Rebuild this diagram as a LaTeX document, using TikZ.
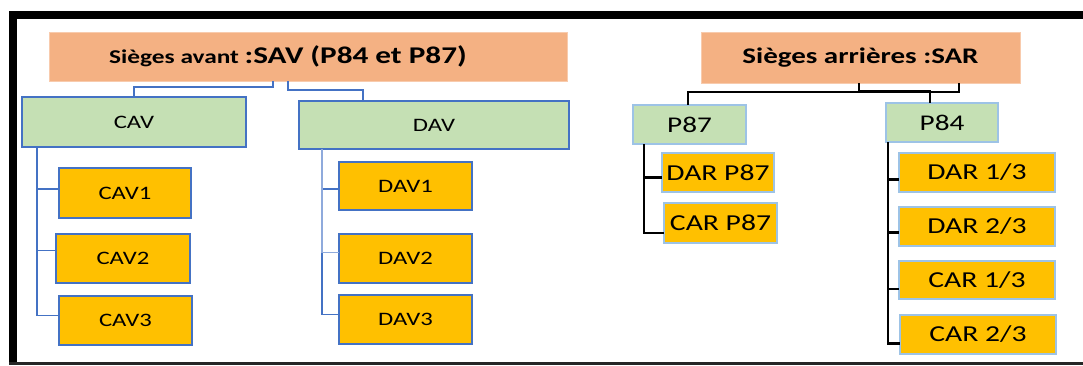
\documentclass[tikz,border=0pt]{standalone}
\usepackage{fontspec}
\setmainfont{Carlito}[FakeStretch=1.3]
\definecolor{hdr}{HTML}{F4B183}
\definecolor{hdredge}{HTML}{F8CBAD}
\definecolor{grn}{HTML}{C5E0B4}
\definecolor{gold}{HTML}{FFC000}
\definecolor{blu}{HTML}{4472C4}
\definecolor{lblu}{HTML}{9DC3E6}
\definecolor{fblu}{HTML}{8FAADC}
\tikzset{
  x=1pt, y=-1pt,
  base/.style={rectangle, inner sep=0pt, outer sep=0pt, align=center},
  header/.style={base, fill=hdr, draw=hdredge, line width=0.8pt, font=\bfseries},
  lgroup/.style={base, fill=grn, draw=blu, line width=1.8pt, font=\fontsize{19}{22}\selectfont},
  rgroup/.style={base, fill=grn, draw=lblu, line width=1.5pt, font=\fontsize{22.5}{26}\selectfont},
  litem/.style={base, fill=gold, draw=blu, line width=1.8pt, font=\fontsize{19}{22}\selectfont},
  ritem/.style={base, fill=gold, draw=lblu, line width=1.5pt, font=\fontsize{22.8}{26}\selectfont},
  bline/.style={draw=blu, line width=1.8pt},
  kline/.style={draw=black, line width=2.2pt},
}
\newcommand{\boxat}[6]{% style, name, x0, y0, x1, y1
  \node[#1, minimum width={#5-#3}, minimum height={#6-#4}] (#2) at ({(#3+#5)/2},{(#4+#6)/2})}
\begin{document}
\begin{tikzpicture}
\useasboundingbox (0,0) rectangle (1083,365);
\fill[white] (0,0) rectangle (1083,365);

% outer frame
\fill[black] (9,11) rectangle (1083,19);
\fill[black] (9,11) rectangle (17,365);
\fill[black!85] (9,362) rectangle (1083,365);

% front seats
\boxat{header}{sav}{49}{32}{567}{81}{\hspace*{-40pt}\fontsize{19.5}{22}\selectfont Sièges avant \fontsize{24}{27}\selectfont:SAV (P84 et P87)};
\boxat{lgroup}{cav}{22}{97}{246}{147}{CAV};
\boxat{lgroup}{dav}{299}{101}{569}{149}{DAV};
\boxat{litem}{cav1}{59}{168}{191}{218}{CAV1};
\boxat{litem}{cav2}{56}{234}{190}{283}{CAV2};
\boxat{litem}{cav3}{59}{296}{192}{345}{CAV3};
\boxat{litem}{dav1}{339}{162}{472}{210}{DAV1};
\boxat{litem}{dav2}{339}{234}{472}{283}{DAV2};
\boxat{litem}{dav3}{339}{295}{472}{344}{DAV3};

\draw[bline] ([xshift=-35pt]sav.south) -- ++(0,6) -| (cav.north);
\draw[bline] ([xshift=-20pt]sav.south) -- ++(0,9) -| ([xshift=-71pt]dav.north);

\draw[bline] ([xshift=15pt]cav.south west) |- ([yshift=4pt]cav1.west);
\draw[bline] ([xshift=15pt]cav.south west) |- ([yshift=8pt]cav2.west);
\draw[bline] ([xshift=15pt]cav.south west) |- ([yshift=5pt]cav3.west);
\draw[bline] ([xshift=23pt]dav.south west) |- ([yshift=-3pt]dav1.west);
\draw[bline] ([xshift=23pt]dav.south west) |- ([yshift=5pt]dav3.west);
\draw[draw=fblu, line width=1.5pt] ([xshift=23pt]dav.south west) |- ([yshift=6pt]dav2.west);

% rear seats
\boxat{header}{sar}{701}{32}{1020}{83}{\fontsize{22.3}{26}\selectfont Sièges arrières :SAR};
\boxat{rgroup}{p87}{633}{105}{746}{144}{P87};
\boxat{rgroup}{p84}{886}{103}{998}{142}{P84};
\boxat{ritem}{darp}{662}{153}{774}{192}{DAR P87};
\boxat{ritem}{carp}{664}{203}{777}{243}{CAR P87};
\boxat{ritem}{dar1}{899}{153}{1055}{192}{DAR 1/3};
\boxat{ritem}{dar2}{899}{207}{1055}{246}{DAR 2/3};
\boxat{ritem}{car1}{899}{261}{1055}{299}{CAR 1/3};
\boxat{ritem}{car2}{900}{315}{1056}{354}{CAR 2/3};

\draw[kline] ([xshift=98.5pt]sar.south) -- ++(0,9) -| ([xshift=-1.5pt]p87.north);
\draw[kline] ([xshift=-1.5pt]sar.south) -- ++(0,8) -| ([xshift=-12pt]p84.north);

\draw[kline] ([xshift=11pt]p87.south west) |- ([yshift=-5pt]darp.west);
\draw[kline] ([xshift=11pt]p87.south west) |- ([yshift=-10pt]carp.west);
\draw[kline] ([xshift=2pt]p84.south west) |- ([yshift=-7pt]dar1.west);
\draw[kline] ([xshift=2pt]p84.south west) |- ([yshift=-6pt]dar2.west);
\draw[kline] ([xshift=2pt]p84.south west) |- ([yshift=-9pt]car1.west);
\draw[kline] ([xshift=2pt]p84.south west) |- ([yshift=-9pt]car2.west);
\end{tikzpicture}
\end{document}
